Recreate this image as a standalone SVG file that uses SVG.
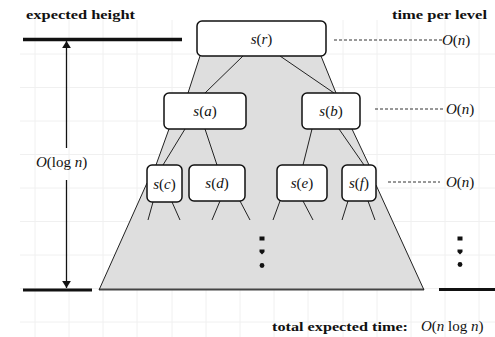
<svg xmlns="http://www.w3.org/2000/svg" width="495" height="337" viewBox="0 0 495 337">
<defs>
<style>
.grid{stroke:#f0f0f0;stroke-width:1;fill:none}
.node{fill:#fff;stroke:#111;stroke-width:1.5}
.lbl{font-family:"Liberation Serif",serif;font-size:15px;fill:#111;text-anchor:middle}
.it{font-style:italic}
.edge{stroke:#222;stroke-width:1;fill:none}
.dash{stroke:#333;stroke-width:1;stroke-dasharray:3 2;fill:none}
.bold{font-family:"Liberation Serif",serif;font-size:13px;font-weight:bold;fill:#111}
.math{font-family:"Liberation Serif",serif;font-size:15px;fill:#111}
.thick{stroke:#111;fill:none}
.dot{fill:#111}
</style>
<marker id="ah" viewBox="0 0 8 10" refX="8" refY="5" markerWidth="7" markerHeight="9" markerUnits="userSpaceOnUse" orient="auto-start-reverse">
<path d="M0,0 L8,5 L0,10 z" fill="#111"/>
</marker>
</defs>
<rect width="495" height="337" fill="#fff"/>
<g id="grid" class="grid">
<path d="M35,20V337M69,20V337M103,20V337M137,20V337M172,20V337M206,20V337M240,20V337M274,20V337M308,20V337M343,20V337M377,20V337M411,20V337M445,20V337M479,20V337"/>
<path d="M20,54H495M20,87.5H495M20,121H495M20,154.5H495M20,188H495M20,221.5H495M20,255H495M20,288.5H495M20,322H495"/>
</g>
<g id="cone">
<polygon points="200,56 188,93 169,129 156,165 147,183 99,290 424,290 376,185 369,165 352,129 336,93 321,56" fill="#dedede"/>
<line x1="99" y1="289.5" x2="424" y2="289.5" stroke="#444" stroke-width="2"/>
</g>
<g id="levels">
<line class="thick" x1="23" y1="39.5" x2="182" y2="39.5" stroke-width="3.5"/>
<line class="thick" x1="23" y1="290" x2="92" y2="290" stroke-width="3"/>
<line class="thick" x1="439" y1="289.5" x2="495" y2="289.5" stroke-width="3"/>
</g>
<g id="connectors">
<line class="edge" x1="200" y1="56" x2="188" y2="93"/>
<line class="edge" x1="243" y1="56" x2="205" y2="93"/>
<line class="edge" x1="280" y1="56" x2="334" y2="93"/>
<line class="edge" x1="321" y1="56" x2="336" y2="93"/>
<line class="edge" x1="169" y1="129" x2="156" y2="165"/>
<line class="edge" x1="185" y1="129" x2="163" y2="165"/>
<line class="edge" x1="205" y1="129" x2="217" y2="165"/>
<line class="edge" x1="312" y1="129" x2="303" y2="165"/>
<line class="edge" x1="339" y1="129" x2="364" y2="165"/>
<line class="edge" x1="352" y1="129" x2="369" y2="165"/>
<line class="edge" x1="147" y1="183" x2="99" y2="290"/>
<line class="edge" x1="376" y1="185" x2="424" y2="290"/>
<line class="edge" x1="153" y1="202" x2="148" y2="220"/>
<line class="edge" x1="172" y1="202" x2="180" y2="220"/>
<line class="edge" x1="220" y1="201" x2="212" y2="220"/>
<line class="edge" x1="240" y1="201" x2="250" y2="220"/>
<line class="edge" x1="280" y1="201" x2="273" y2="220"/>
<line class="edge" x1="303" y1="201" x2="313" y2="220"/>
<line class="edge" x1="348" y1="201" x2="342" y2="220"/>
<line class="edge" x1="368" y1="201" x2="375" y2="220"/>
<line class="dash" x1="334" y1="40" x2="442" y2="40"/>
<line class="dash" x1="375" y1="109" x2="443" y2="109"/>
<line class="dash" x1="388" y1="182" x2="440" y2="182"/>
<line x1="66.5" y1="148" x2="66.5" y2="41" stroke="#111" stroke-width="1.3" marker-end="url(#ah)"/>
<line x1="66.5" y1="180" x2="66.5" y2="288" stroke="#111" stroke-width="1.3" marker-end="url(#ah)"/>
</g>
<g id="n-r"><rect class="node" x="197" y="21" width="129" height="35" rx="5"/><text class="lbl" x="261.5" y="43.5"><tspan class="it">s</tspan>(<tspan class="it">r</tspan>)</text></g>
<g id="n-a"><rect class="node" x="164" y="93" width="82" height="36" rx="5"/><text class="lbl" x="205" y="116"><tspan class="it">s</tspan>(<tspan class="it">a</tspan>)</text></g>
<g id="n-b"><rect class="node" x="302" y="93" width="58" height="36" rx="5"/><text class="lbl" x="331" y="116"><tspan class="it">s</tspan>(<tspan class="it">b</tspan>)</text></g>
<g id="n-c"><rect class="node" x="147" y="165" width="35" height="37" rx="5"/><text class="lbl" x="164.5" y="188.5"><tspan class="it">s</tspan>(<tspan class="it">c</tspan>)</text></g>
<g id="n-d"><rect class="node" x="189" y="165" width="56" height="36" rx="5"/><text class="lbl" x="217" y="188"><tspan class="it">s</tspan>(<tspan class="it">d</tspan>)</text></g>
<g id="n-e"><rect class="node" x="277" y="165" width="50" height="36" rx="5"/><text class="lbl" x="302" y="188"><tspan class="it">s</tspan>(<tspan class="it">e</tspan>)</text></g>
<g id="n-f"><rect class="node" x="342" y="165" width="34" height="36" rx="5"/><text class="lbl" x="359" y="188"><tspan class="it">s</tspan>(<tspan class="it">f</tspan>)</text></g>
<g id="dots">
<rect class="dot" x="259.5" y="236.5" width="5" height="4"/>
<path class="dot" d="M259.5,249.5h5v2.5l-2.5,2.5l-2.5,-2.5z"/>
<circle class="dot" cx="262" cy="265.5" r="2.4"/>
<rect class="dot" x="457.5" y="236.5" width="5" height="4"/>
<path class="dot" d="M457.5,249.5h5v2.5l-2.5,2.5l-2.5,-2.5z"/>
<circle class="dot" cx="460" cy="264.5" r="2.4"/>
</g>
<g id="labels">
<text class="bold" x="26" y="19" textLength="109" lengthAdjust="spacingAndGlyphs">expected height</text>
<text class="bold" x="392" y="19" textLength="95" lengthAdjust="spacingAndGlyphs">time per level</text>
<text class="bold" x="272" y="331" textLength="136" lengthAdjust="spacingAndGlyphs">total expected time:</text>
<text class="math" x="36" y="167"><tspan class="it">O</tspan>(log <tspan class="it">n</tspan>)</text>
<text class="math" x="442" y="45"><tspan class="it">O</tspan>(<tspan class="it">n</tspan>)</text>
<text class="math" x="446" y="114"><tspan class="it">O</tspan>(<tspan class="it">n</tspan>)</text>
<text class="math" x="446" y="187"><tspan class="it">O</tspan>(<tspan class="it">n</tspan>)</text>
<text class="math" x="421" y="331"><tspan class="it">O</tspan>(<tspan class="it">n</tspan> log <tspan class="it">n</tspan>)</text>
</g>
</svg>
